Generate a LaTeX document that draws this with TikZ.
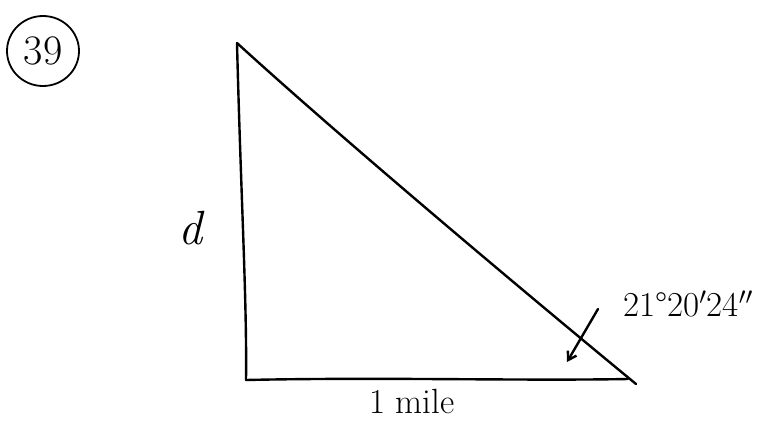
\RequirePackage{fix-cm}
\documentclass[tikz,border=0pt]{standalone}
\usepackage{fontspec}
\usetikzlibrary{arrows.meta,shapes.geometric}
\begin{document}
\begin{tikzpicture}[x=1pt,y=-1pt,
  pen/.style={line width=2.4pt,line cap=round,line join=round},
  lbl/.style={inner sep=0pt,font=\fontsize{35}{40}\selectfont}]
\useasboundingbox (0,0) rectangle (769,426);
\fill[white] (0,0) rectangle (769,426);
% vertices
\coordinate (top) at (237,43);
\coordinate (bl) at (246,380);
\coordinate (br) at (628,379);
\coordinate (tip) at (636,384);
% triangle
\draw[pen] (top) .. controls (241,200) and (247,300) .. (bl);
\draw[pen] (bl) .. controls (380,377) and (520,381) .. (br);
\draw[pen] (top) .. controls (330,128) and (500,272) .. (tip);
% angle label and arrow
\node[lbl] (ang) at (688,304) {21°20$'$24$''$};
\coordinate (a0) at (598,309);
\coordinate (a1) at (567,362);
\draw[pen,-{Straight Barb[length=8pt,width=10pt]}] (a0) -- (a1);
% side labels
\node[lbl,font=\fontsize{48}{52}\selectfont\itshape] (d) at (190,228) {d};
\node[lbl] (mile) at (412,401) {1 mile};
% problem number
\node[draw,ellipse,line width=1.8pt,minimum width=72pt,minimum height=70pt,inner sep=0pt,font=\fontsize{42}{46}\selectfont] (num) at (43,51) {39};
\end{tikzpicture}
\end{document}
